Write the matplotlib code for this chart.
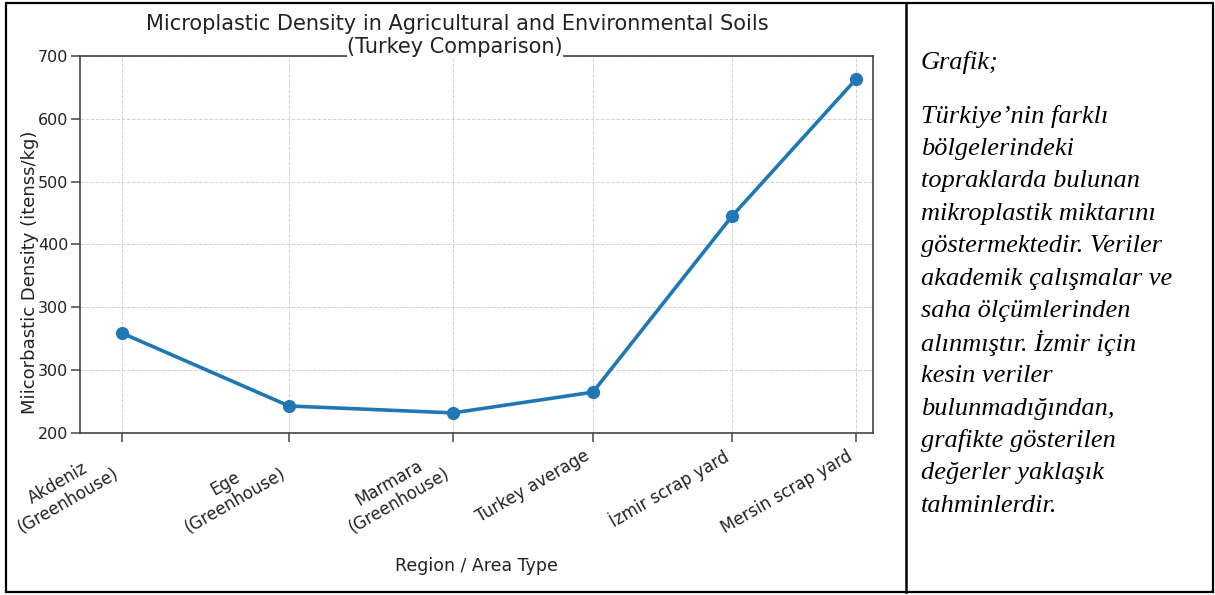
import matplotlib
matplotlib.use("Agg")
import matplotlib.pyplot as plt
from matplotlib.patches import Rectangle
from matplotlib.lines import Line2D

# chart data
regions = [
    "Akdeniz\n(Greenhouse)",
    "Ege\n(Greenhouse)",
    "Marmara\n(Greenhouse)",
    "Turkey average",
    "İzmir scrap yard",
    "Mersin scrap yard",
]
x_pos = [0.0, 1.138, 2.255, 3.208, 4.155, 5.0]
density = [259, 143, 132, 165, 445, 663]
y_ticks = [100, 200, 300, 400, 500, 600, 700]
y_tick_labels = ["200", "300", "300", "400", "500", "600", "700"]

note_title = "Grafik;"
note_lines = [
    "Türkiye’nin farklı",
    "bölgelerindeki",
    "topraklarda bulunan",
    "mikroplastik miktarını",
    "göstermektedir. Veriler",
    "akademik çalışmalar ve",
    "saha ölçümlerinden",
    "alınmıştır. İzmir için",
    "kesin veriler",
    "bulunmadığından,",
    "grafikte gösterilen",
    "değerler yaklaşık",
    "tahminlerdir.",
]

W, H = 1215, 595


def fx(px):
    return px / W


def fy(py):
    return 1 - py / H


def main():
    fig = plt.figure(figsize=(W / 100, H / 100), dpi=100)
    ax = fig.add_axes([fx(80), fy(433), (873 - 80) / W, (433 - 56) / H])

    ax.plot(x_pos, density, color="#1f77b4", lw=2.6, marker="o", ms=8.5, zorder=3)
    ax.set_xlim(-0.286, 5.116)
    ax.set_ylim(100, 700)

    ax.set_xticks(x_pos)
    ax.set_xticklabels(regions, rotation=30, ha="right", multialignment="center",
                       fontsize=12, color="#222222")
    ax.set_yticks(y_ticks)
    ax.set_yticklabels(y_tick_labels, fontsize=11.5, color="#222222")
    ax.tick_params(length=6.5, width=1.1, color="#444444")
    ax.tick_params(axis="y", pad=2)
    ax.grid(True, ls="--", color="#d0d0d0", lw=0.7)
    for sp in ax.spines.values():
        sp.set_color("#444444")
        sp.set_linewidth(1.2)

    ax.set_xlabel("Region / Area Type", fontsize=12.5, color="#222222")
    ax.xaxis.set_label_coords(0.5, -0.329)
    ax.set_ylabel("Miicorbastic Density (itenss/kg)", fontsize=13, color="#222222")
    ax.yaxis.set_label_coords(-0.052, 0.427)

    # title centred on the left cell; second line sits over the top spine
    fig.text(fx(457), fy(24), "Microplastic Density in Agricultural and Environmental Soils",
             ha="center", va="center", fontsize=15, color="#222222")
    fig.text(fx(455), fy(47), "(Turkey Comparison)", ha="center", va="center",
             fontsize=15, color="#222222", zorder=5,
             bbox=dict(facecolor="white", edgecolor="none", pad=0.5))

    # right cell text
    serif = ["Liberation Serif", "DejaVu Serif"]
    fig.text(fx(921), fy(63), note_title, ha="left", va="center",
             fontsize=19, style="italic", family=serif)
    for i, line in enumerate(note_lines):
        fig.text(fx(921), fy(116 + i * 32.5), line, ha="left", va="center",
                 fontsize=19, style="italic", family=serif)

    # table borders
    fig.add_artist(Rectangle((fx(6), fy(592)), fx(1213) - fx(6), fy(3) - fy(592),
                             transform=fig.transFigure, fill=False,
                             edgecolor="black", lw=1.6))
    fig.add_artist(Line2D([fx(906), fx(906)], [fy(592), fy(3)],
                          transform=fig.transFigure, color="black", lw=1.8))

    fig.savefig("out.png", dpi=100)
    plt.close(fig)


if __name__ == "__main__":
    main()
